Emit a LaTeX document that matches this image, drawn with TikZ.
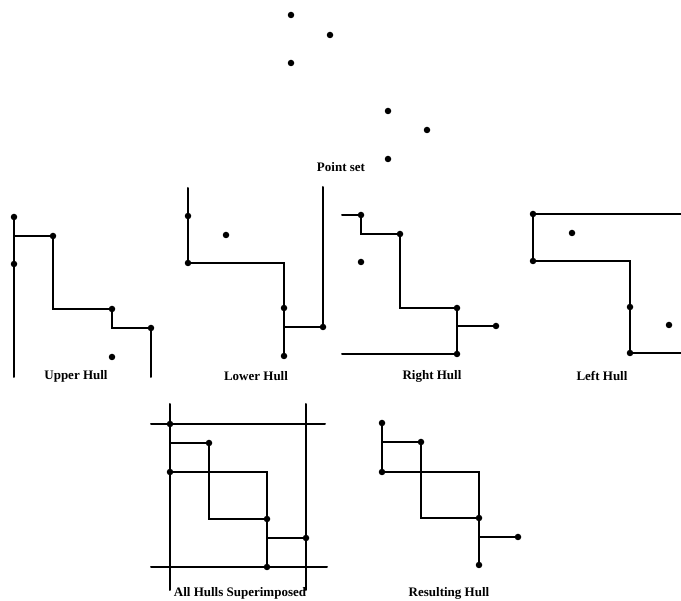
\documentclass[tikz,border=0pt]{standalone}
\usepackage{fontspec}
\setmainfont{Liberation Serif}
\begin{document}
\begin{tikzpicture}[x=1pt,y=-1pt,
  hull/.style={line width=2pt,line cap=round},
  dotmark/.style={circle,fill=black,inner sep=0pt,minimum size=6.5pt},
  caption/.style={font=\bfseries\fontsize{13}{15}\selectfont,inner sep=0pt}]
\useasboundingbox (0,0) rectangle (681,601);

% ---------- point set ----------
\foreach \n/\x/\y in {pA/291/15,pB/330/35,pC/291/63,pD/388/111,pE/427/130,pF/388/159}
  \node[dotmark] (\n) at (\x,\y) {};
\node[caption] (lblP) at (341,167) {Point set};

% ---------- upper hull ----------
\foreach \n/\x/\y in {uA/14/217,uB/53/236,uC/14/264,uD/112/309,uE/151/328,uF/112/357}
  \node[dotmark] (\n) at (\x,\y) {};
\coordinate (uEnd1) at (14,377);
\coordinate (uEnd2) at (151,377);
\draw[hull] (uA.center) -- (uEnd1);
\draw[hull] (uA.center |- uB.center) -- (uB.center) |- (uD.center) |- (uE.center) -- (uEnd2);
\node[caption] (lblU) at (76,376) {Upper Hull};

% ---------- lower hull ----------
\foreach \n/\x/\y in {lA/188/216,lB/226/235,lC/188/263,lD/284/308,lE/323/327,lF/284/356}
  \node[dotmark] (\n) at (\x,\y) {};
\coordinate (lEnd1) at (188,188);
\coordinate (lEnd2) at (323,187);
\draw[hull] (lEnd1) -- (lC.center) -| (lF.center);
\draw[hull] (lF.center |- lE.center) -- (lE.center) -- (lEnd2);
\node[caption] (lblL) at (256,376) {Lower Hull};

% ---------- right hull ----------
\foreach \n/\x/\y in {rA/361/215,rB/400/234,rC/361/262,rD/457/308,rE/496/326,rF/457/354}
  \node[dotmark] (\n) at (\x,\y) {};
\coordinate (rEnd1) at (342,215);
\coordinate (rEnd2) at (342,354);
\draw[hull] (rEnd1) -- (rA.center) |- (rB.center) |- (rD.center) -- (rF.center) -- (rEnd2);
\draw[hull] (rD.center |- rE.center) -- (rE.center);
\node[caption] (lblR) at (432,376) {Right Hull};

% ---------- left hull ----------
\foreach \n/\x/\y in {eA/533/214,eB/572/233,eC/533/261,eD/630/307,eE/669/325,eF/630/353}
  \node[dotmark] (\n) at (\x,\y) {};
\coordinate (eEnd1) at (681,214);
\coordinate (eEnd2) at (681,353);
\draw[hull] (eEnd1) -- (eA.center) -- (eC.center) -| (eF.center) -- (eEnd2);
\node[caption] (lblE) at (602,376) {Left Hull};

% ---------- all hulls superimposed ----------
\foreach \n/\x/\y in {sA/170/424,sB/209/443,sC/170/472,sD/267/519,sE/306/538,sF/267/567}
  \node[dotmark] (\n) at (\x,\y) {};
\coordinate (sT1) at (170,404);
\coordinate (sB1) at (170,590);
\coordinate (sT2) at (306,404);
\coordinate (sB2) at (306,590);
\coordinate (sL1) at (151,424);
\coordinate (sR1) at (325,424);
\coordinate (sL2) at (151,567);
\coordinate (sR2) at (327,567);
\draw[hull] (sT1) -- (sB1);
\draw[hull] (sT2) -- (sB2);
\draw[hull] (sL1) -- (sR1);
\draw[hull] (sL2) -- (sR2);
\draw[hull] (sA.center |- sB.center) -- (sB.center) |- (sD.center);
\draw[hull] (sC.center) -| (sF.center);
\draw[hull] (sD.center |- sE.center) -- (sE.center);
\node[caption] (lblS) at (240,593) {All Hulls Superimposed};

% ---------- resulting hull ----------
\foreach \n/\x/\y in {qA/382/423,qB/421/442,qC/382/472,qD/479/518,qE/518/537,qF/479/565}
  \node[dotmark] (\n) at (\x,\y) {};
\draw[hull] (qA.center) -- (qC.center) -| (qF.center);
\draw[hull] (qA.center |- qB.center) -- (qB.center) |- (qD.center);
\draw[hull] (qD.center |- qE.center) -- (qE.center);
\node[caption] (lblQ) at (449,593) {Resulting Hull};
\end{tikzpicture}
\end{document}
